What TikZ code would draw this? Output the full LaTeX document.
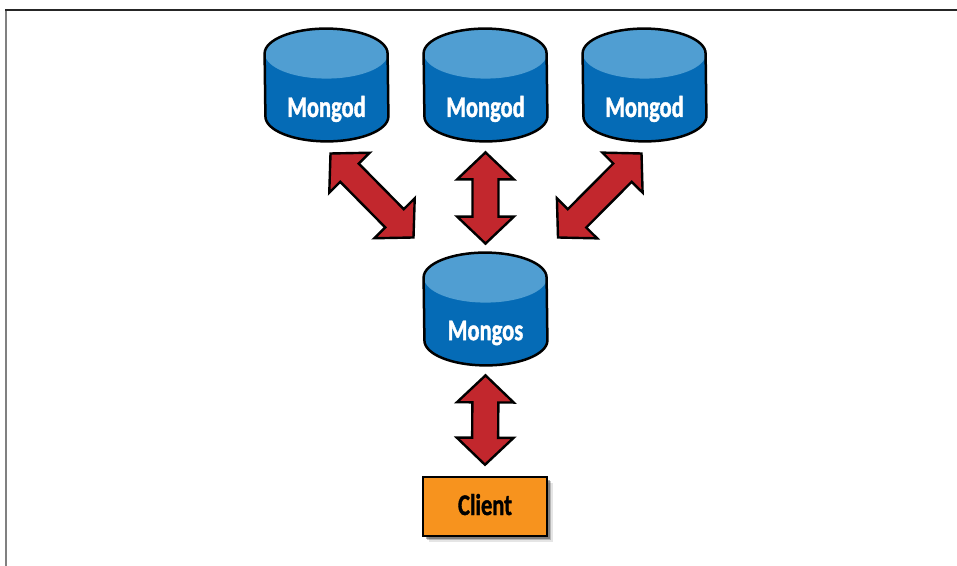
\documentclass[tikz,border=0pt]{standalone}
\usepackage{xcolor}
\usepackage{fontspec}
\setmainfont{Carlito}[FakeStretch=0.75,BoldFeatures={FakeBold=1.2}]
\usepackage{tikz}
\usetikzlibrary{calc,shadows}
\definecolor{dbbody}{RGB}{5,107,182}
\definecolor{dbtop}{RGB}{80,158,210}
\definecolor{arrowred}{RGB}{194,39,45}
\definecolor{clientorange}{RGB}{247,147,30}
\tikzset{
	dbtext/.style={text=white,font=\bfseries\fontsize{15}{15}\selectfont,yshift=-12pt},
	dbnode/.style={minimum width=61.5pt,minimum height=56pt,inner sep=0pt},
	clientnode/.style={draw=black,line width=1.25pt,fill=clientorange,minimum width=62pt,minimum height=29.5pt,
		inner sep=0pt,text depth=2pt,font=\bfseries\fontsize{15}{15}\selectfont,
		drop shadow={shadow xshift=3pt,shadow yshift=-3pt,fill=black,opacity=0.1},
		drop shadow={shadow xshift=2.2pt,shadow yshift=-2.2pt,fill=black,opacity=0.2},
		drop shadow={shadow xshift=1.5pt,shadow yshift=-1.5pt,fill=black,opacity=0.3}},
	bigarrow/.style={draw=black,line width=1.2pt,miter limit=10,fill=arrowred,to path={
		-- ($(\tikztostart)!13.5pt!(\tikztotarget)!14.2pt!90:(\tikztotarget)$)
		-- ($(\tikztostart)!13.5pt!(\tikztotarget)!6.5pt!90:(\tikztotarget)$)
		-- ($(\tikztotarget)!13.5pt!(\tikztostart)!6.5pt!-90:(\tikztostart)$)
		-- ($(\tikztotarget)!13.5pt!(\tikztostart)!14.2pt!-90:(\tikztostart)$)
		-- (\tikztotarget)
		-- ($(\tikztotarget)!13.5pt!(\tikztostart)!14.2pt!90:(\tikztostart)$)
		-- ($(\tikztotarget)!13.5pt!(\tikztostart)!6.5pt!90:(\tikztostart)$)
		-- ($(\tikztostart)!13.5pt!(\tikztotarget)!6.5pt!-90:(\tikztotarget)$)
		-- ($(\tikztostart)!13.5pt!(\tikztotarget)!14.2pt!-90:(\tikztotarget)$)
		-- cycle}}
}
\begin{document}
\begin{tikzpicture}[x=0.5pt,y=0.5pt]
	\useasboundingbox (0,0) rectangle (957,566);
	\draw[gray,line width=1pt] (5.5,556) -- (5.5,0);
	\draw[black!85,line width=1pt] (5,556) -- (957,556);
	\node[dbnode] (mongodA) at (326.5,481) {};
	\node[dbnode] (mongodB) at (485.5,481) {};
	\node[dbnode] (mongodC) at (644.5,481) {};
	\node[dbnode] (mongos) at (485.5,257) {};
	\foreach \db/\dbname in {mongodA/Mongod,mongodB/Mongod,mongodC/Mongod,mongos/Mongos} {
		\fill[dbbody] ([yshift=-12.5pt]\db.north west) arc[start angle=180,end angle=0,x radius=30.75pt,y radius=12.5pt]
			-- ([yshift=12.5pt]\db.south east) arc[start angle=0,end angle=-180,x radius=30.75pt,y radius=12.5pt] -- cycle;
		\fill[dbtop] ([yshift=-12.5pt]\db.north) ellipse[x radius=30.75pt,y radius=12.5pt];
		\draw[line width=1.25pt] ([yshift=-12.5pt]\db.north west) arc[start angle=180,end angle=0,x radius=30.75pt,y radius=12.5pt]
			-- ([yshift=12.5pt]\db.south east) arc[start angle=0,end angle=-180,x radius=30.75pt,y radius=12.5pt] -- cycle;
		\node[dbtext] (\db text) at (\db.center) {\dbname};
	}
	\node[clientnode] (client) at (485,59.5) {Client};
	\coordinate (leftTop) at (330.5,412.5);
	\coordinate (leftEnd) at (413.5,328.5);
	\coordinate (rightTop) at (641.5,412.5);
	\coordinate (rightEnd) at (558,328.5);
	\coordinate (midTop) at ([yshift=-5.5pt]mongodB.south);
	\coordinate (midEnd) at ([yshift=4.5pt]mongos.north);
	\coordinate (lowTop) at ([yshift=-5pt]mongos.south);
	\coordinate (lowEnd) at ([yshift=5.5pt]client.north);
	\draw[bigarrow] (leftTop) to (leftEnd);
	\draw[bigarrow] (rightTop) to (rightEnd);
	\draw[bigarrow] (midTop) to (midEnd);
	\draw[bigarrow] (lowTop) to (lowEnd);
\end{tikzpicture}
\end{document}
